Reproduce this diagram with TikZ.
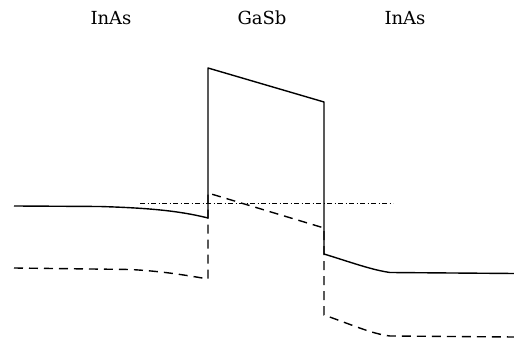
\documentclass[tikz,border=0pt]{standalone}
\usepackage{fontspec}
\setmainfont{DejaVu Serif}
\begin{document}
\begin{tikzpicture}[x=1pt,y=-1pt,
  band/.style={line width=1.4pt, line join=round},
  valence/.style={line width=1.4pt, dash pattern=on 9pt off 6pt},
  fermi/.style={line width=1pt, dash pattern=on 5pt off 2.5pt on 1pt off 2.5pt},
  layer/.style={font=\fontsize{18}{21}\selectfont, inner sep=0pt}]
\useasboundingbox (0,0) rectangle (514,344);
% layer labels
\node[layer] (l1) at (111,18) {InAs};
\node[layer] (l2) at (262,18) {GaSb};
\node[layer] (l3) at (405,18) {InAs};
% conduction band edge
\draw[band] (14,206) -- (100,206.5) .. controls (150,208) and (180,211) .. (208,218)
  -- (208,68) -- (324,102) -- (324,254)
  .. controls (350,262) and (372,270) .. (390,272.5) -- (514,273.5);
% valence band edge
\draw[valence] (14,268) -- (130,269.5) .. controls (160,271) and (185,275) .. (208,279)
  -- (208,193) -- (324,228) -- (324,315)
  .. controls (350,324) and (372,334) .. (390,336) -- (514,337);
% Fermi level
\draw[fermi] (140,203.5) -- (393,203.5);
\end{tikzpicture}
\end{document}
